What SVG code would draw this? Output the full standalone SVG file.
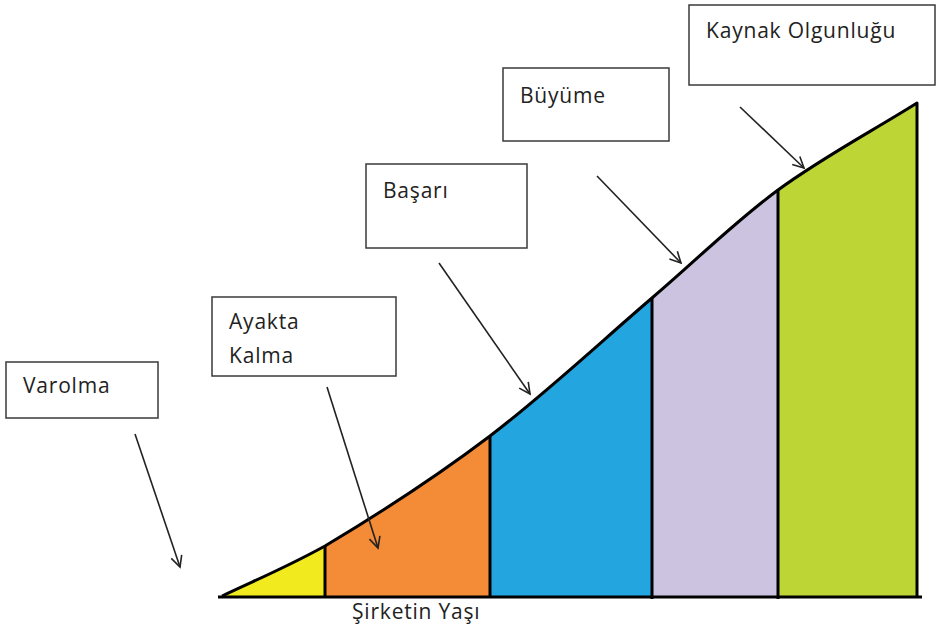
<svg xmlns="http://www.w3.org/2000/svg" width="937" height="632" viewBox="0 0 937 632">
<style>
.box{fill:#fff;stroke:#3a3a3a;stroke-width:1.5}
.lbl{font-family:"Open Sans","Noto Sans",sans-serif;font-size:21px;letter-spacing:0.8px;fill:#222}
.arr{stroke:#222;stroke-width:1.6;fill:none;marker-end:url(#ah)}
.blk{stroke:#000;stroke-width:3;fill:none;stroke-linejoin:round}
</style>
<defs>
<marker id="ah" markerUnits="userSpaceOnUse" markerWidth="14" markerHeight="14" refX="12" refY="6" orient="auto" viewBox="0 0 14 12">
<path d="M1,0.5 L12,6 L1,11.5" fill="none" stroke="#222" stroke-width="1.6"/>
</marker>
<clipPath id="area">
<path d="M222,596 C260,578 285,568 325,546 C369.7,519.3 435.5,477.3 490,436 C544.5,394.7 604,339 652,298 C700,257 733.8,222.5 778,190 C822.2,157.5 870.7,132 917,103 L917,597 L222,597 Z"/>
</clipPath>
</defs>
<rect width="937" height="632" fill="#fff"/>
<g id="chart">
<g clip-path="url(#area)">
<rect x="200" y="80" width="125" height="530" fill="#F0EA1E"/>
<rect x="325" y="80" width="165" height="530" fill="#F48B36"/>
<rect x="490" y="80" width="162" height="530" fill="#23A6DF"/>
<rect x="652" y="80" width="126" height="530" fill="#CBC3DF"/>
<rect x="778" y="80" width="150" height="530" fill="#BDD636"/>
</g>
<path class="blk" d="M222,596 C260,578 285,568 325,546 C369.7,519.3 435.5,477.3 490,436 C544.5,394.7 604,339 652,298 C700,257 733.8,222.5 778,190 C822.2,157.5 870.7,132 917,103 L917,597"/>
<line class="blk" x1="218" y1="597" x2="922" y2="597"/>
<line class="blk" x1="325" y1="546" x2="325" y2="597"/>
<line class="blk" x1="490" y1="436" x2="490" y2="597"/>
<line class="blk" x1="652" y1="298" x2="652" y2="599"/>
<line class="blk" x1="778" y1="190" x2="778" y2="599"/>
<text class="lbl" x="352" y="619">Şirketin Yaşı</text>
</g>
<g id="varolma">
<rect class="box" x="6" y="362" width="152" height="56"/>
<text class="lbl" x="23" y="393">Varolma</text>
</g>
<g id="ayakta">
<rect class="box" x="212" y="297" width="184" height="79"/>
<text class="lbl" x="229" y="329">Ayakta</text>
<text class="lbl" x="229" y="363">Kalma</text>
</g>
<g id="basari">
<rect class="box" x="366" y="164" width="161" height="84"/>
<text class="lbl" x="383" y="198">Başarı</text>
</g>
<g id="buyume">
<rect class="box" x="503" y="68" width="166" height="73"/>
<text class="lbl" x="520" y="103">Büyüme</text>
</g>
<g id="kaynak">
<rect class="box" x="689" y="5" width="246" height="80"/>
<text class="lbl" x="706" y="38">Kaynak Olgunluğu</text>
</g>
<g id="connectors">
<line class="arr" x1="135" y1="434" x2="180" y2="567"/>
<line class="arr" x1="327" y1="387" x2="378" y2="548"/>
<line class="arr" x1="439" y1="263" x2="530" y2="394"/>
<line class="arr" x1="597" y1="176" x2="681" y2="263"/>
<line class="arr" x1="740" y1="107" x2="804" y2="168"/>
</g>
</svg>
